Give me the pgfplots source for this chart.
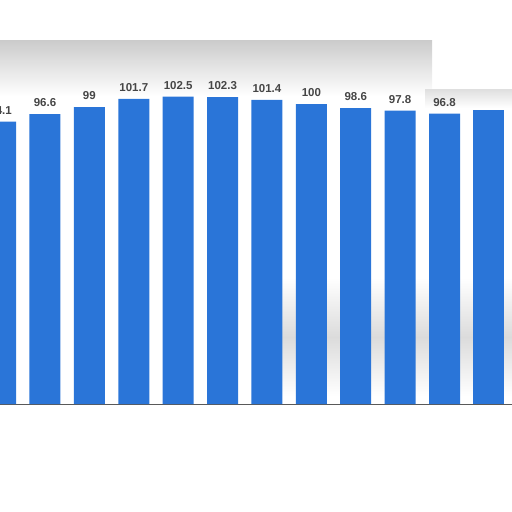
\documentclass[border=0pt]{standalone}
\usepackage{pgfplots}
\pgfplotsset{compat=1.18}
\usepackage{fontspec}
\setmainfont{Liberation Sans}
\definecolor{barblue}{RGB}{42,117,216}
\definecolor{lbl}{RGB}{70,70,70}
\begin{document}
\begin{tikzpicture}[x=1pt,y=1pt]
% grey smudges left in the picture
\shade[top color=black!20, bottom color=white] (0,363) rectangle (432,308);
\shade[top color=black!12, bottom color=white] (425,314) rectangle (512,296);
\shade[top color=white, bottom color=white, middle color=black!14] (280,8) rectangle (512,126);
\begin{axis}[
  at={(0,0)}, anchor=south west,
  scale only axis, width=512pt, height=404pt,
  xmin=-0.0135, xmax=11.52, ymin=0, ymax=134.67,
  axis x line=bottom, axis y line=none,
  x axis line style={-, draw=gray!70!black, line width=1pt},
  xtick=\empty, ytick={20,40,60,80,100}, yticklabels={},
  major tick length=0pt,
  ymajorgrids, grid style={densely dotted, gray!55},
  ybar, bar width=31pt, bar shift=0pt,
  clip=true,
]
\addplot[fill=barblue, draw=none,
  nodes near coords,
  every node near coord/.append style={font=\bfseries\fontsize{11.5}{13}\selectfont, text=lbl, inner sep=0pt, anchor=south, yshift=7pt},
  point meta=explicit symbolic]
  table[meta=label] {
x y label
0 94.1 94.1
1 96.6 96.6
2 99 99
3 101.7 101.7
4 102.5 102.5
5 102.3 102.3
6 101.4 101.4
7 100 100
8 98.6 98.6
9 97.8 97.8
10 96.8 96.8
};
\addplot[fill=barblue, draw=none] coordinates {(11,98)};
\end{axis}
\pgfresetboundingbox
\path (0,-108) rectangle (512,404);
\end{tikzpicture}
\end{document}
